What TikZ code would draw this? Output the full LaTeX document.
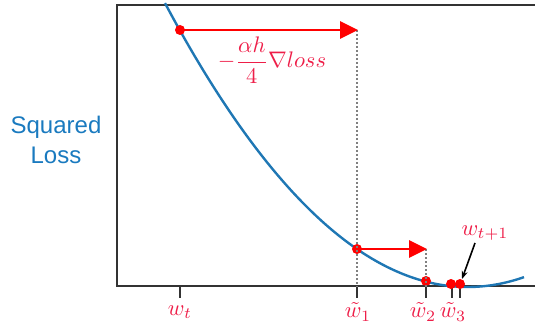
\documentclass[tikz,border=0pt]{standalone}
\usepackage{fontspec}
\usepackage{amsmath}
\usepackage{graphicx}
\newfontfamily\labelfont{Liberation Sans}
\usetikzlibrary{arrows.meta}
\definecolor{curveblue}{HTML}{1F77B4}
\definecolor{textblue}{HTML}{1A7ABF}
\definecolor{lblred}{RGB}{238,30,72}
\definecolor{axisgray}{HTML}{333333}
\tikzset{
  axisline/.style={draw=axisgray, line width=2.4pt},
  tickline/.style={draw=axisgray, line width=2.4pt},
  stepdot/.style={circle, fill=red, inner sep=0pt, minimum size=10pt},
  steparrow/.style={draw=red, line width=2.8pt, -{Triangle[length=18pt,width=17pt]}},
  guide/.style={draw=gray, line width=1.2pt, dash pattern=on 2pt off 2pt},
  mathlbl/.style={text=lblred, inner sep=0pt},
}
\newcommand{\bigmath}[1]{\scalebox{2.25}{$#1$}}
\begin{document}
\begin{tikzpicture}[x=1pt,y=-1pt]
\useasboundingbox (0,0) rectangle (535,323);
% axes
\draw[axisline] (535,5) -- (117,5) -- (117,286) -- (535,286);
% curve
\draw[curveblue, line width=2.4pt, domain=165:524, samples=120, smooth]
  plot (\x, {287 - (0.05568*(\x-467.6))^2});
% ticks
\foreach \tx/\nm in {180/ta,357/tb,426/tc,452/td,460/te}{
  \coordinate (\nm top) at (\tx,287);
  \coordinate (\nm bot) at (\tx,298);
  \draw[tickline] (\nm top) -- (\nm bot);
}
% dots
\node[stepdot] (p0) at (180,30) {};
\node[stepdot] (p1) at (357,249) {};
\node[stepdot] (p2) at (426,281) {};
\node[stepdot] (p3) at (451,284) {};
\node[stepdot] (p4) at (460,284) {};
\coordinate (a0) at (358,30);
\coordinate (a1) at (427,249);
% guides
\draw[guide] (357,30) -- (tbtop);
\draw[guide] (426,249) -- (tctop);
% arrows
\draw[steparrow] (p0.center) -- (a0);
\draw[steparrow] (p1.center) -- (a1);
% labels
\node[mathlbl] (grad) at (272,60) {\bigmath{-\dfrac{\alpha h}{4}\nabla loss}};
\node[mathlbl] (lwt) at (180,312) {\bigmath{w_t}};
\node[mathlbl] (lw1) at (358,312) {\bigmath{\tilde{w}_1}};
\node[mathlbl] (lw2) at (423,312) {\bigmath{\tilde{w}_2}};
\node[mathlbl] (lw3) at (453,312) {\bigmath{\tilde{w}_3}};
\node[mathlbl] (lwn) at (485,233) {\bigmath{w_{t+1}}};
\coordinate (wn) at (475,243);
\coordinate (wnend) at (462,279);
\draw[black, line width=1.6pt, -{Stealth[length=8pt,width=6pt]}] (wn) -- (wnend);
% y label
\node[text=textblue, font=\labelfont\fontsize{24}{30}\selectfont, align=center] (ylab) at (56,140) {Squared\\Loss};
\end{tikzpicture}
\end{document}
